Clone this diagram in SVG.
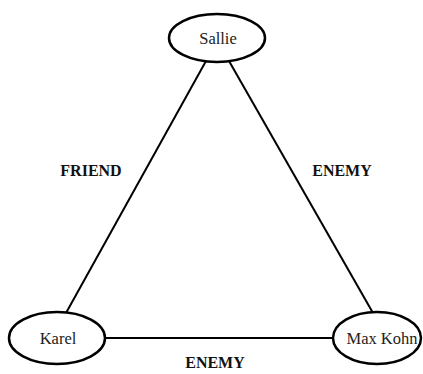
<svg xmlns="http://www.w3.org/2000/svg" width="423" height="374" viewBox="0 0 423 374">
<style>
.node{fill:#fff;stroke:#000;stroke-width:2.5}
.edge{stroke:#000;stroke-width:2;fill:none}
.nl{font-family:"Liberation Serif",serif;font-size:16.5px;fill:#222;text-anchor:middle}
.el{font-family:"Liberation Serif",serif;font-size:16px;font-weight:bold;fill:#111;text-anchor:middle}
</style>
<rect width="423" height="374" fill="#fff"/>
<g id="connectors">
<line class="edge" x1="206" y1="61" x2="66" y2="313"/>
<line class="edge" x1="229" y1="61" x2="373" y2="313"/>
<line class="edge" x1="104" y1="338" x2="334" y2="338"/>
<text class="el" x="91" y="176">FRIEND</text>
<text class="el" x="342" y="176">ENEMY</text>
<text class="el" x="215" y="368">ENEMY</text>
</g>
<g id="sallie">
<ellipse class="node" cx="217" cy="38" rx="48" ry="24"/>
<text class="nl" x="218" y="44">Sallie</text>
</g>
<g id="karel">
<ellipse class="node" cx="57" cy="338" rx="48" ry="26"/>
<text class="nl" x="58" y="344">Karel</text>
</g>
<g id="maxkohn">
<ellipse class="node" cx="377" cy="338" rx="44" ry="26"/>
<text class="nl" x="382" y="344">Max Kohn</text>
</g>
</svg>
